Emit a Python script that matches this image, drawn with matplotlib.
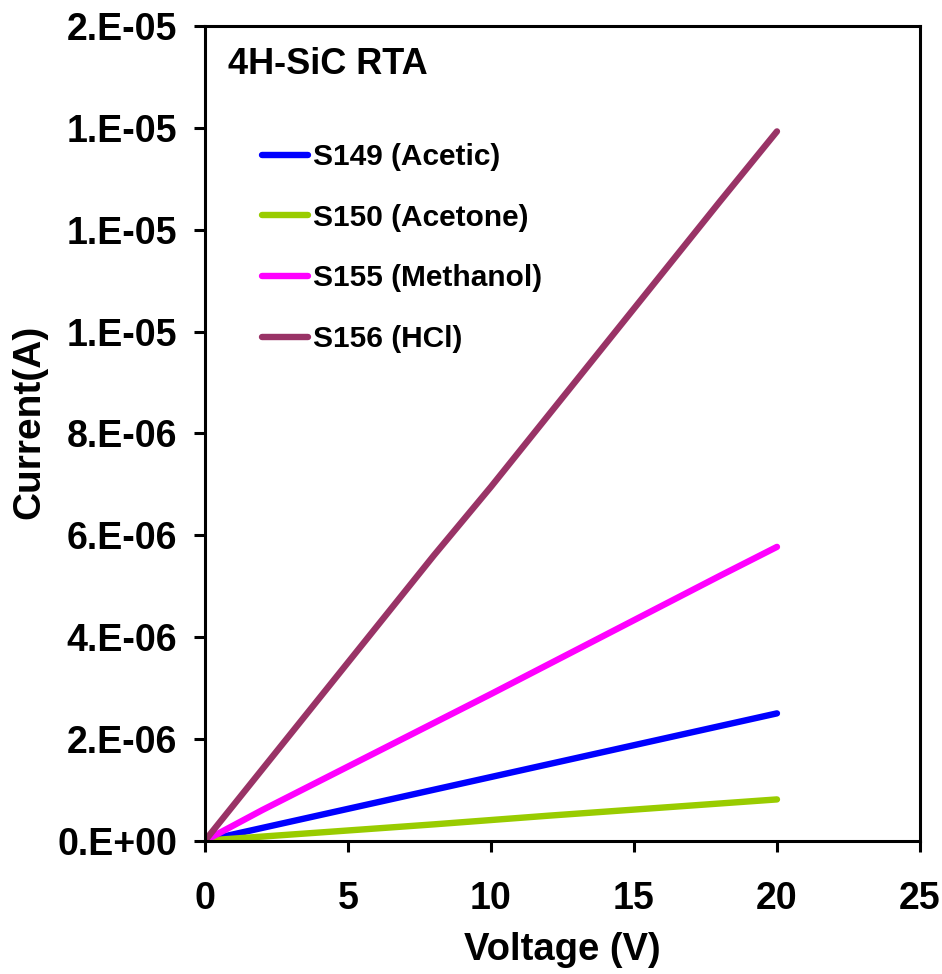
import matplotlib.pyplot as plt
import numpy as np
from matplotlib.ticker import FuncFormatter

plt.rcParams['font.family'] = ['Liberation Sans', 'DejaVu Sans']
plt.rcParams['font.weight'] = 'bold'

voltage = [0, 2, 4, 6, 8, 10, 12, 14, 16, 18, 20]
acetic = [0, 0.25e-6, 0.50e-6, 0.75e-6, 1.00e-6, 1.25e-6, 1.50e-6, 1.75e-6, 2.00e-6, 2.25e-6, 2.50e-6]
acetone = [0, 0.08e-6, 0.16e-6, 0.24e-6, 0.32e-6, 0.405e-6, 0.49e-6, 0.57e-6, 0.65e-6, 0.73e-6, 0.81e-6]
methanol = [0, 0.60e-6, 1.17e-6, 1.74e-6, 2.31e-6, 2.88e-6, 3.46e-6, 4.04e-6, 4.62e-6, 5.20e-6, 5.77e-6]
hcl = [0, 1.40e-6, 2.80e-6, 4.20e-6, 5.60e-6, 6.95e-6, 8.35e-6, 9.75e-6, 11.15e-6, 12.55e-6, 13.93e-6]

series = [
    ('S149 (Acetic)', acetic, '#0000FF'),
    ('S150 (Acetone)', acetone, '#99CC00'),
    ('S155 (Methanol)', methanol, '#FF00FF'),
    ('S156 (HCl)', hcl, '#993366'),
]

fig = plt.figure(figsize=(9.42, 9.74), dpi=100)
ax = fig.add_axes([0.2176, 0.1369, 0.759, 0.8364])

for label, vals, color in series:
    ax.plot(voltage, vals, color=color, lw=4.6, label=label, solid_capstyle='round')

ax.set_xlim(0, 25)
ax.set_ylim(0, 1.6e-5)
ax.set_xticks(np.arange(0, 26, 5))
ax.set_yticks(np.arange(0, 1.61e-5, 2e-6))

# excel-style "0.E+00" labels (1.2e-5 etc. round to 1.E-05)
def sci_fmt(v, pos):
    if v == 0:
        return '0.E+00'
    exp = int(np.floor(np.log10(abs(v))))
    mant = round(v / 10**exp)
    if mant >= 10:
        mant //= 10
        exp += 1
    return f'{mant}.E{exp:+03d}'

ax.yaxis.set_major_formatter(FuncFormatter(sci_fmt))

for sp in ax.spines.values():
    sp.set_linewidth(2.2)
ax.tick_params(axis='both', direction='out', length=8, width=2.2)
ax.tick_params(axis='y', pad=12, labelsize=27)
ax.tick_params(axis='x', pad=21, labelsize=27)

ax.set_xlabel('Voltage (V)', fontsize=27.5, fontweight='bold')
ax.set_ylabel('Current(A)', fontsize=28, fontweight='bold')
ax.xaxis.set_label_coords(0.5, -0.112)
ax.yaxis.set_label_coords(-0.22, 0.514)

ax.text(0.032, 0.953, '4H-SiC RTA', transform=ax.transAxes, fontsize=26,
        fontweight='bold', va='center', ha='left')

ax.legend(loc='upper left', bbox_to_anchor=(0.0797, 0.856), frameon=False,
          fontsize=21.5, handlelength=1.54, handletextpad=0.17, labelspacing=1.09,
          borderpad=0, borderaxespad=0)

fig.savefig('out.png', dpi=100)
